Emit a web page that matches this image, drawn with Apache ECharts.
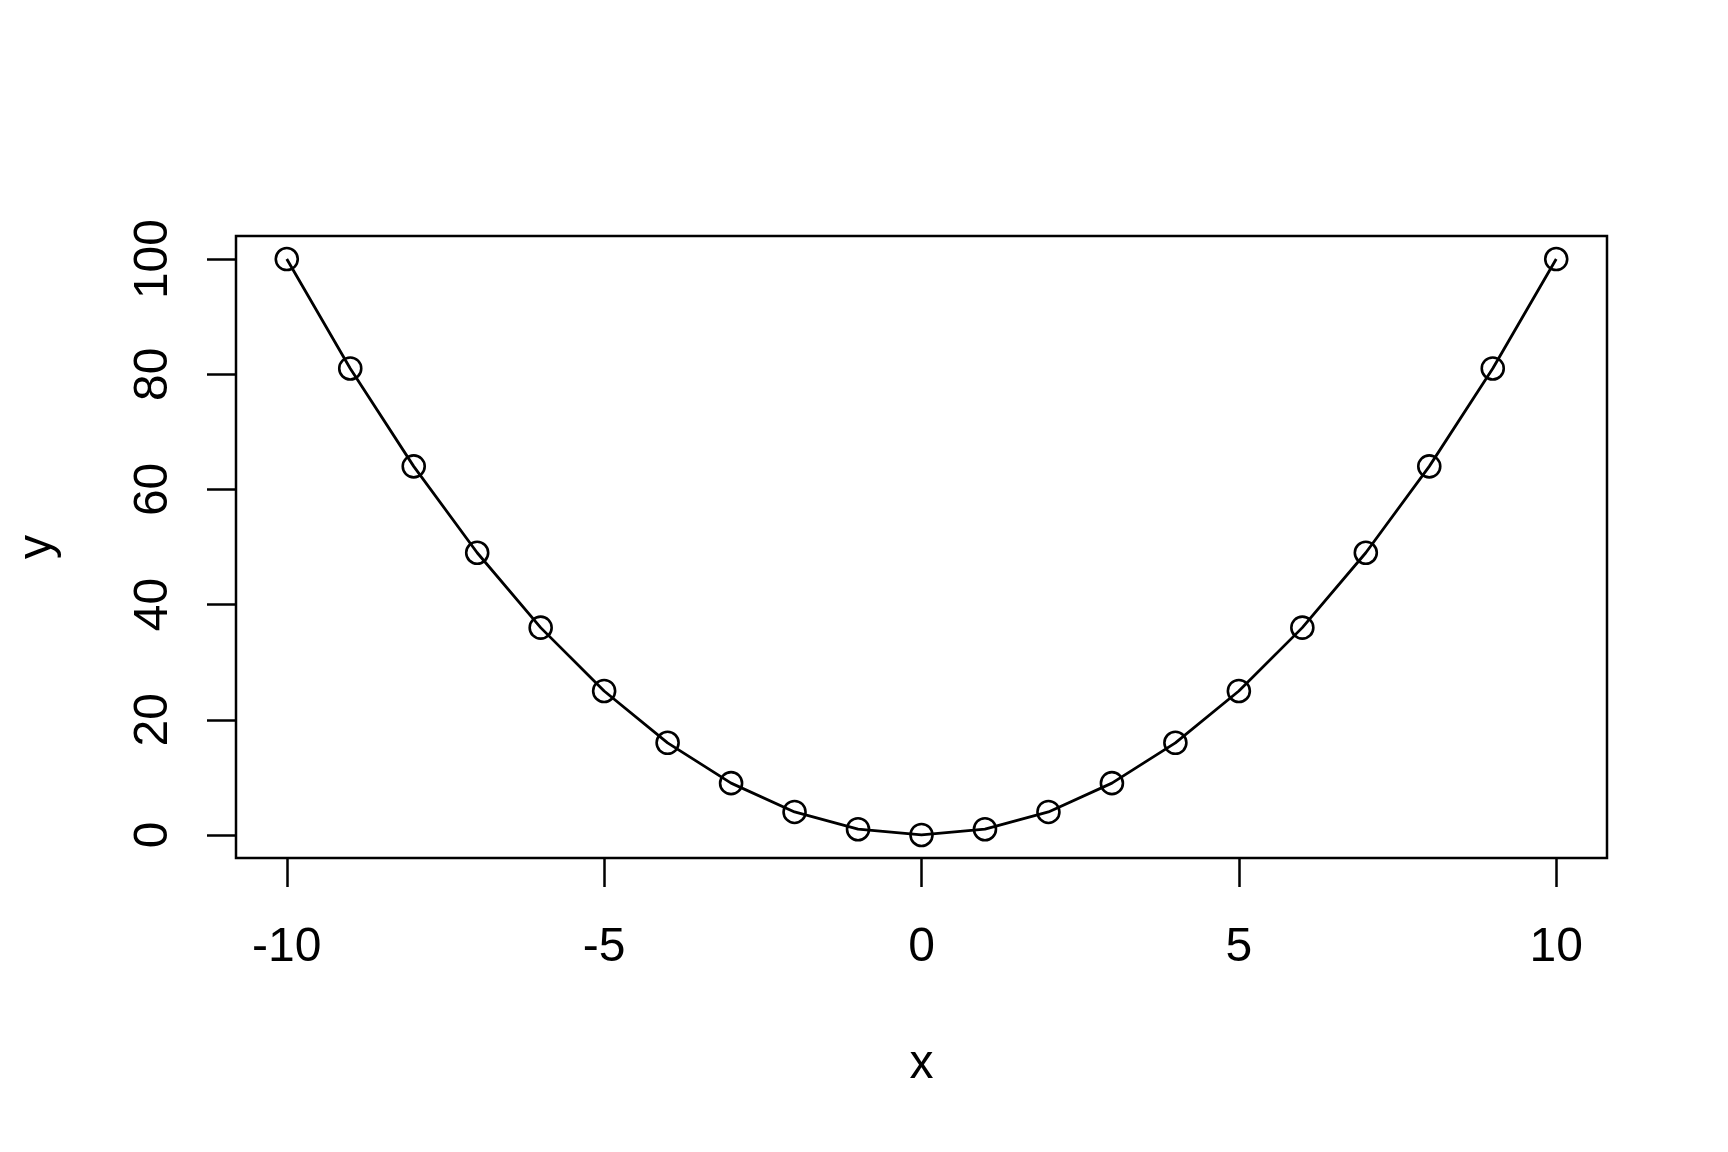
<!DOCTYPE html>
<html>
<head>
<meta charset="utf-8">
<script src="https://cdn.jsdelivr.net/npm/echarts@6/dist/echarts.min.js"></script>
<style>html,body{margin:0;padding:0;background:#fff;}#c{width:1728px;height:1152px;}</style>
</head>
<body>
<div id="c"></div>
<script>
const xValues = [-10,-9,-8,-7,-6,-5,-4,-3,-2,-1,0,1,2,3,4,5,6,7,8,9,10];
const yValues = [100,81,64,49,36,25,16,9,4,1,0,1,4,9,16,25,36,49,64,81,100];
const xTicks = [-10,-5,0,5,10];
const yTicks = [0,20,40,60,80,100];

const chart = echarts.init(document.getElementById('c'));
const font = 'Liberation Sans, Arial, Helvetica, sans-serif';
chart.setOption({
  animation: false,
  backgroundColor: '#fff',
  grid: {left: 236, right: 121, top: 236, bottom: 294, show: true, borderColor: '#000', borderWidth: 2.5, backgroundColor: 'transparent'},
  xAxis: {
    type: 'value', min: -10.8, max: 10.8,
    name: 'x', nameLocation: 'middle', nameGap: 183,
    nameTextStyle: {fontSize: 48, color: '#000', fontFamily: font},
    axisLine: {show: false, onZero: false},
    splitLine: {show: false},
    axisTick: {show: true, inside: false, customValues: xTicks, length: 29, lineStyle: {color: '#000', width: 2.5}},
    axisLabel: {customValues: xTicks, fontSize: 48, color: '#000', fontFamily: font, margin: 66}
  },
  yAxis: {
    type: 'value', min: -4, max: 104,
    name: 'y', nameLocation: 'middle', nameGap: 174,
    nameTextStyle: {fontSize: 48, color: '#000', fontFamily: font},
    axisLine: {show: false, onZero: false},
    splitLine: {show: false},
    axisTick: {show: true, inside: false, customValues: yTicks, length: 29, lineStyle: {color: '#000', width: 2.5}},
    axisLabel: {customValues: yTicks, rotate: 90, fontSize: 48, color: '#000', fontFamily: font, margin: 58}
  },
  series: [{
    type: 'line',
    data: xValues.map((x, i) => [x, yValues[i]]),
    symbol: 'circle', symbolSize: 22,
    lineStyle: {color: '#000', width: 2.8},
    itemStyle: {color: 'transparent', borderColor: '#000', borderWidth: 2.6},
    z: 3
  }]
});
</script>
</body>
</html>
